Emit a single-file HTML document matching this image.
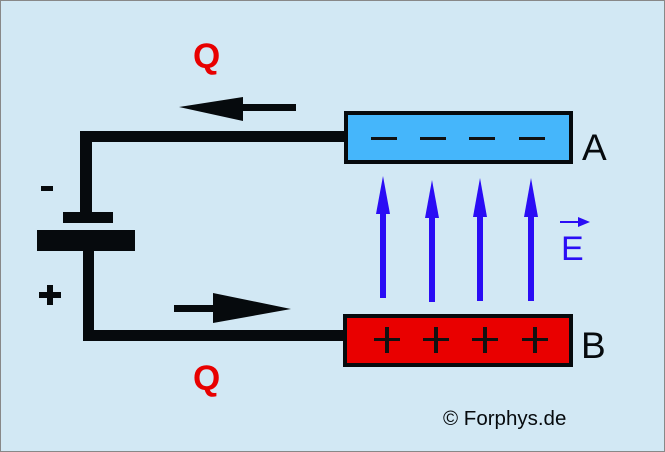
<!DOCTYPE html>
<html><head><style>
html,body{margin:0;padding:0;}
body{width:665px;height:452px;overflow:hidden;background:#d2e8f4;}
</style></head><body>
<svg width="665" height="452" xmlns="http://www.w3.org/2000/svg" style="display:block">
<rect x="0.5" y="0.5" width="664" height="451" fill="#d2e8f4" stroke="#888" stroke-width="1"/>
<g fill="#060a0d">
<rect x="80" y="131" width="266" height="11"/>
<rect x="80" y="131" width="12" height="82"/>
<rect x="63" y="212" width="50" height="11"/>
<rect x="37" y="230" width="98" height="21"/>
<rect x="83" y="250" width="11" height="91"/>
<rect x="83" y="330" width="263" height="11"/>
<rect x="41" y="186" width="12" height="5"/>
<rect x="39" y="292" width="22" height="6"/>
<rect x="47" y="285" width="6" height="20"/>
<polygon points="179,107 243,97 243,121"/>
<rect x="242" y="104" width="54" height="7"/>
<rect x="174" y="305" width="42" height="7"/>
<polygon points="291,309 213,293 213,323"/>
</g>
<rect x="346" y="113" width="225" height="49" fill="#45b6fb" stroke="#060a0d" stroke-width="4"/>
<rect x="345" y="316" width="226" height="49" fill="#e90000" stroke="#060a0d" stroke-width="4"/>
<g fill="#111">
<rect x="371" y="137" width="26" height="3"/>
<rect x="420" y="137" width="26" height="3"/>
<rect x="469" y="137" width="26" height="3"/>
<rect x="519" y="137" width="26" height="3"/>
<g id="p"><rect x="374" y="338" width="26" height="3"/><rect x="385" y="327" width="4" height="26"/></g>
<use href="#p" x="49"/><use href="#p" x="98"/><use href="#p" x="148"/>
</g>
<g fill="#2a0cf5">
<rect x="380" y="210" width="6" height="88"/><polygon points="383,176 376,214 390,214"/>
<rect x="429" y="214" width="6" height="88"/><polygon points="432,180 425,218 439,218"/>
<rect x="477" y="214" width="6" height="87"/><polygon points="480,178 473,217 487,217"/>
<rect x="528" y="214" width="6" height="87"/><polygon points="531,178 524,217 538,217"/>
<rect x="560" y="221" width="20" height="2"/><polygon points="590,222 578,217 578,227"/>
</g>
<text x="561" y="260" font-family="Liberation Sans, sans-serif" font-size="34" fill="#2a0cf5">E</text>
<text x="582" y="160" font-family="Liberation Sans, sans-serif" font-size="37" fill="#060a0d">A</text>
<text x="581" y="358" font-family="Liberation Sans, sans-serif" font-size="37" fill="#060a0d">B</text>
<text x="193" y="68" font-family="Liberation Sans, sans-serif" font-size="35" font-weight="bold" fill="#e80000">Q</text>
<text x="193" y="390" font-family="Liberation Sans, sans-serif" font-size="35" font-weight="bold" fill="#e80000">Q</text>
<text x="443" y="425" font-family="Liberation Sans, sans-serif" font-size="20.5" fill="#060a0d">© Forphys.de</text>
</svg>
</body></html>
